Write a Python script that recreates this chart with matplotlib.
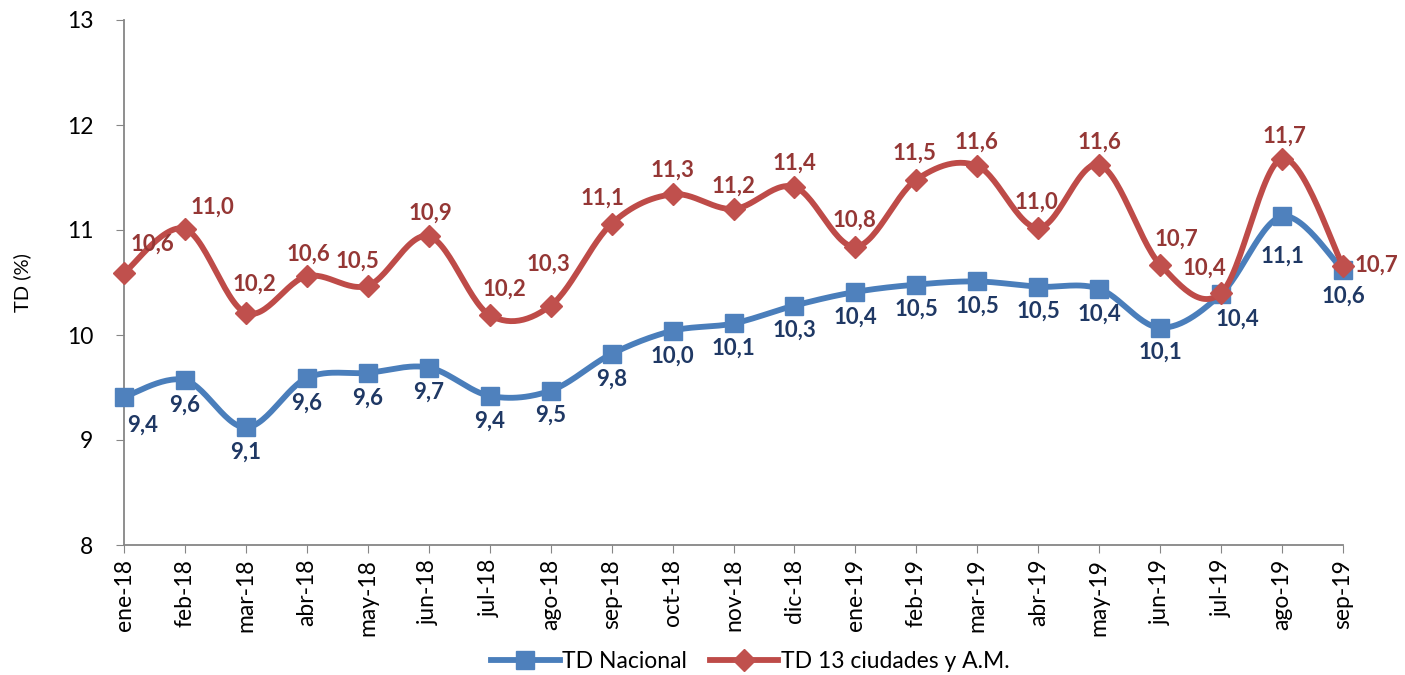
import numpy as np
import matplotlib
matplotlib.use("Agg")
import matplotlib.pyplot as plt
from matplotlib.lines import Line2D

# datos
meses = ["ene-18", "feb-18", "mar-18", "abr-18", "may-18", "jun-18", "jul-18", "ago-18",
         "sep-18", "oct-18", "nov-18", "dic-18", "ene-19", "feb-19", "mar-19", "abr-19",
         "may-19", "jun-19", "jul-19", "ago-19", "sep-19"]
td_nacional = [9.41, 9.57, 9.12, 9.59, 9.64, 9.69, 9.42, 9.47, 9.82, 10.04, 10.11, 10.28,
               10.41, 10.48, 10.51, 10.46, 10.44, 10.07, 10.39, 11.13, 10.62]
td_13 = [10.59, 11.01, 10.21, 10.56, 10.47, 10.94, 10.19, 10.28, 11.06, 11.34, 11.20, 11.41,
         10.84, 11.48, 11.61, 11.02, 11.62, 10.67, 10.40, 11.68, 10.66]

# desplazamientos de etiquetas (pixeles)
off_nac = [(19, -28)] + [(0, -25)] * 17 + [(16, -25), (0, -40), (0, -26)]
off_13 = [(28, 29), (27, 22), (9, 29), (2, 22), (-10, 24), (2, 23), (15, 26), (-2, 41),
          (-9, 25), (0, 24), (0, 23), (0, 24), (-1, 27), (-2, 26), (-1, 24), (-2, 26),
          (0, 23), (16, 25), (-17, 25), (2, 22), (33, 0)]

AZUL = "#4A7EBB"
AZUL_M = "#4F81BD"
ROJO = "#BE4B48"
ROJO_M = "#C0504D"

plt.rcParams["font.family"] = ["Lato", "DejaVu Sans"]


def suavizar(y, n=30):
    # curva tipo Excel (Bezier / Catmull-Rom)
    x = np.arange(len(y), dtype=float)
    y = np.asarray(y, dtype=float)
    xs, ys = [], []
    for i in range(len(y) - 1):
        i0 = max(i - 1, 0)
        i3 = min(i + 2, len(y) - 1)
        p0 = np.array([x[i], y[i]])
        p3 = np.array([x[i + 1], y[i + 1]])
        p1 = p0 + (np.array([x[i + 1], y[i + 1]]) - np.array([x[i0], y[i0]])) / 6
        p2 = p3 - (np.array([x[i3], y[i3]]) - np.array([x[i], y[i]])) / 6
        t = np.linspace(0, 1, n)[:, None]
        pts = ((1 - t) ** 3) * p0 + 3 * ((1 - t) ** 2) * t * p1 + 3 * (1 - t) * t ** 2 * p2 + t ** 3 * p3
        xs.extend(pts[:, 0])
        ys.extend(pts[:, 1])
    return xs, ys


fig = plt.figure(figsize=(14.05, 6.75), dpi=100)
ax = fig.add_axes([124 / 1405, 1 - 545 / 675, (1343 - 124) / 1405, (545 - 20) / 675])

x = np.arange(len(meses))
LW = 4.2

xs, ys = suavizar(td_nacional)
ax.plot(xs, ys, color=AZUL, lw=LW, solid_capstyle="round", clip_on=False, zorder=3)
ax.plot(x, td_nacional, ls="none", marker="s", ms=13, color=AZUL_M, clip_on=False, zorder=4)

xs, ys = suavizar(td_13)
ax.plot(xs, ys, color=ROJO, lw=LW, solid_capstyle="round", clip_on=False, zorder=5)
ax.plot(x, td_13, ls="none", marker="D", ms=11.5, color=ROJO_M, clip_on=False, zorder=6)

for i, v in enumerate(td_nacional):
    ax.annotate(f"{v:.1f}".replace(".", ","), (x[i], v), xytext=off_nac[i], textcoords="offset pixels",
                ha="center", va="center", fontsize=16, fontweight="bold", color="#1F3864", zorder=7)
for i, v in enumerate(td_13):
    ax.annotate(f"{v:.1f}".replace(".", ","), (x[i], v), xytext=off_13[i], textcoords="offset pixels",
                ha="center", va="center", fontsize=16, fontweight="bold", color="#953735", zorder=7)

ax.set_xlim(0, len(meses) - 1)
ax.set_ylim(8, 13)
ax.set_yticks(range(8, 14))
ax.set_xticks(x)
ax.set_xticklabels(meses, rotation=90, fontsize=16.5)
ax.tick_params(axis="y", labelsize=16.5, length=6, color="#868686", pad=16)
ax.tick_params(axis="x", length=6, color="#868686", pad=4)
for s in ["top", "right"]:
    ax.spines[s].set_visible(False)
for s in ["left", "bottom"]:
    ax.spines[s].set_color("#868686")
    ax.spines[s].set_linewidth(1.3)
ax.set_ylabel("TD (%)", fontsize=14.5, labelpad=26)

handles = [
    Line2D([], [], color=AZUL, lw=LW, marker="s", ms=13, mfc=AZUL_M, mec=AZUL_M),
    Line2D([], [], color=ROJO, lw=LW, marker="D", ms=11.5, mfc=ROJO_M, mec=ROJO_M),
]
fig.legend(handles, ["TD Nacional", "TD 13 ciudades y A.M."], loc="center", ncol=2,
           bbox_to_anchor=(750 / 1405, 1 - 662 / 675), frameon=False, fontsize=16.5,
           handlelength=3.0, handletextpad=0.1, columnspacing=1.0)

fig.savefig("out.png", dpi=100)
